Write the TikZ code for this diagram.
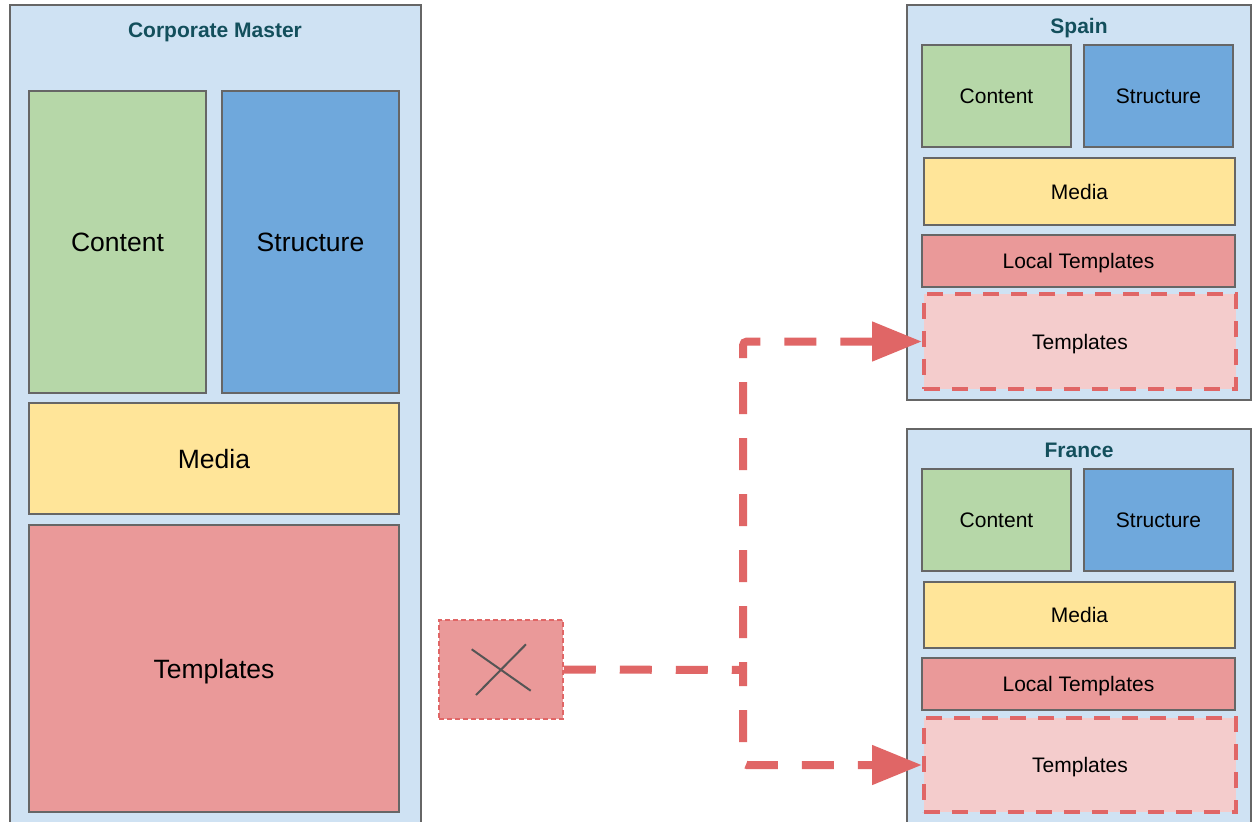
\documentclass[tikz,border=0pt]{standalone}
\usepackage{fontspec}
\setmainfont{Liberation Sans}
\usetikzlibrary{arrows.meta}
\definecolor{paneblue}{HTML}{CFE2F3}
\definecolor{contgreen}{HTML}{B6D7A8}
\definecolor{structblue}{HTML}{6FA8DC}
\definecolor{mediayellow}{HTML}{FFE599}
\definecolor{tplred}{HTML}{EA9999}
\definecolor{tpllight}{HTML}{F4CCCC}
\definecolor{linkred}{HTML}{E06666}
\definecolor{titleteal}{HTML}{134F5C}
\definecolor{edgegray}{HTML}{666666}
\definecolor{crossgray}{HTML}{555555}
\begin{document}
\begin{tikzpicture}[x=1pt, y=-1pt,
  every node/.style={draw=edgegray, line width=1.5pt, inner sep=0pt, align=center, text depth=0pt},
  pane/.style={fill=paneblue},
  paneTitle/.style={draw=none, font=\fontsize{21}{25}\selectfont\bfseries, text=titleteal},
  bigText/.style={font=\fontsize{26.5}{32}\selectfont},
  smallText/.style={font=\fontsize{21}{25}\selectfont},
  inherited/.style={fill=tpllight, draw=linkred, line width=4pt, dash pattern=on 16pt off 12pt},
  flow/.style={draw=linkred, line width=8pt, dash pattern=on 32pt off 24pt, rounded corners=4pt}]
\clip (0,0) rectangle (1256,822);
\fill[white] (0,0) rectangle (1256,822);
% corporate master
\node[pane, minimum width=411pt, minimum height=825pt] (CMpane) at (215.5,417.5) {};
\node[paneTitle] (CMtitle) at (215,30) {Corporate Master};
\node[bigText, fill=contgreen, minimum width=177pt, minimum height=302pt] (CMcontent) at (117.5,242) {Content};
\node[bigText, fill=structblue, minimum width=177pt, minimum height=302pt] (CMstructure) at (310.5,242) {Structure};
\node[bigText, fill=mediayellow, minimum width=370pt, minimum height=111pt] (CMmedia) at (214,458.5) {Media};
\node[bigText, fill=tplred, minimum width=370pt, minimum height=287pt] (CMtemplates) at (214,668.5) {Templates};
% spain
\node[pane, minimum width=344pt, minimum height=395pt] (SPpane) at (1079,202.5) {};
\node[paneTitle] (SPtitle) at (1079,26) {Spain};
\node[smallText, fill=contgreen, minimum width=149pt, minimum height=102pt] (SPcontent) at (996.5,96) {Content};
\node[smallText, fill=structblue, minimum width=149pt, minimum height=102pt] (SPstructure) at (1158.5,96) {Structure};
\node[smallText, fill=mediayellow, minimum width=311pt, minimum height=67pt] (SPmedia) at (1079.5,191.5) {Media};
\node[smallText, fill=tplred, minimum width=313pt, minimum height=52pt] (SPlocal) at (1078.5,261) {Local Templates};
\node[smallText, inherited, minimum width=312pt, minimum height=95pt] (SPtemplates) at (1080,341.5) {Templates};
% france
\node[pane, minimum width=344pt, minimum height=401pt] (FRpane) at (1079,629.5) {};
\node[paneTitle] (FRtitle) at (1079,450) {France};
\node[smallText, fill=contgreen, minimum width=149pt, minimum height=102pt] (FRcontent) at (996.5,520) {Content};
\node[smallText, fill=structblue, minimum width=149pt, minimum height=102pt] (FRstructure) at (1158.5,520) {Structure};
\node[smallText, fill=mediayellow, minimum width=311pt, minimum height=66pt] (FRmedia) at (1079.5,615) {Media};
\node[smallText, fill=tplred, minimum width=313pt, minimum height=52pt] (FRlocal) at (1078.5,684) {Local Templates};
\node[smallText, inherited, minimum width=312pt, minimum height=94pt] (FRtemplates) at (1080,765) {Templates};
% removed templates
\node[fill=tplred, draw=linkred, line width=1.5pt, dash pattern=on 5pt off 3pt, minimum width=124pt, minimum height=99pt] (CMremoved) at (501,669.5) {};
\draw[crossgray, line width=2pt] (471.7,649.3) -- (530.7,690.7);
\draw[crossgray, line width=2pt] (526,644.3) -- (476,695);
\coordinate (Split) at (743,670);
\draw[flow] (CMremoved.east) -- (Split);
\draw[flow, dash phase=24pt, -{Triangle[length=50pt, width=38pt]}] (Split) |- (SPtemplates.west);
\draw[flow, dash phase=16pt, -{Triangle[length=50pt, width=38pt]}] (Split) |- (FRtemplates.west);
\end{tikzpicture}
\end{document}
